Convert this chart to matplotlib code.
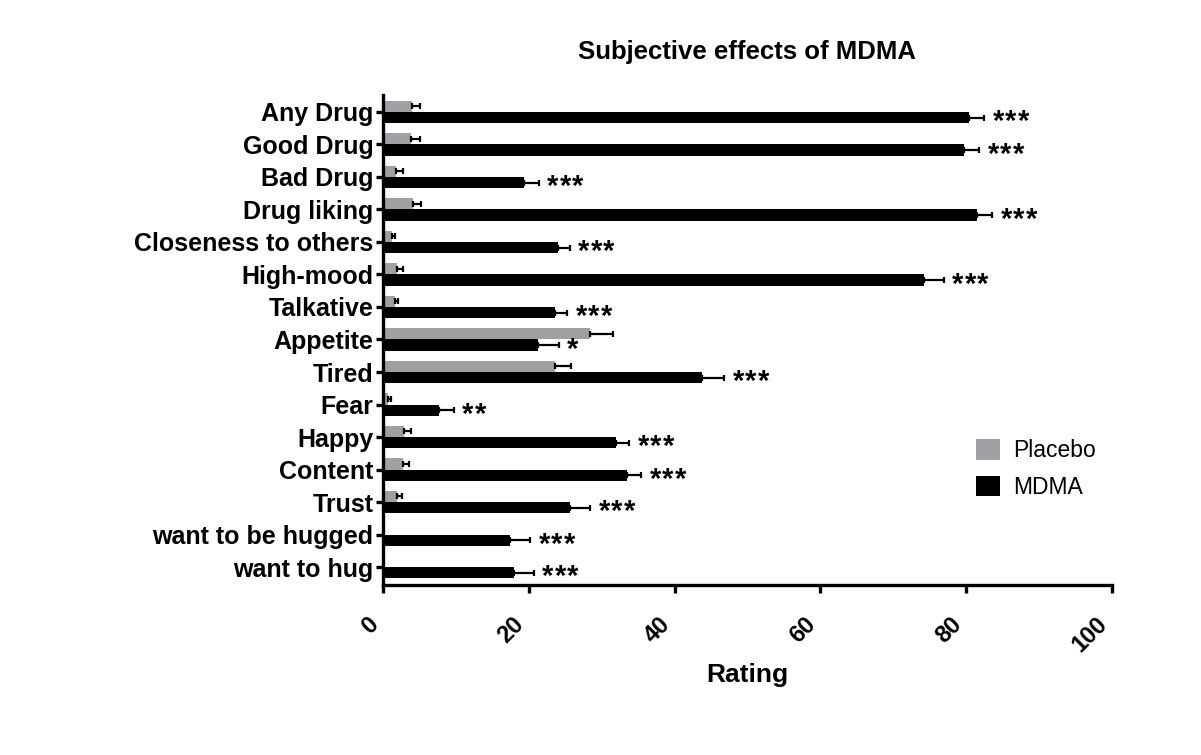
import matplotlib
matplotlib.use("Agg")
import matplotlib.pyplot as plt
from matplotlib.patches import Patch
import numpy as np

plt.rcParams['font.family'] = ['Liberation Sans', 'DejaVu Sans']

categories = ['Any Drug', 'Good Drug', 'Bad Drug', 'Drug liking', 'Closeness to others',
              'High-mood', 'Talkative', 'Appetite', 'Tired', 'Fear', 'Happy', 'Content',
              'Trust', 'want to be hugged', 'want to hug']
placebo = [4.0, 3.8, 1.8, 4.1, 1.2, 1.9, 1.6, 28.4, 23.6, 0.7, 2.9, 2.8, 1.9, 0.0, 0.0]
placebo_sem = [1.1, 1.3, 0.9, 1.1, 0.4, 0.9, 0.4, 3.1, 2.2, 0.4, 0.9, 0.8, 0.7, 0.0, 0.0]
mdma = [80.4, 79.7, 19.3, 81.5, 24.0, 74.2, 23.6, 21.3, 43.8, 7.7, 31.9, 33.5, 25.6, 17.4, 18.0]
mdma_sem = [2.1, 2.1, 2.1, 2.1, 1.6, 2.7, 1.7, 2.8, 3.0, 2.0, 1.9, 1.9, 2.8, 2.8, 2.7]
stars = ['***', '***', '***', '***', '***', '***', '***', '*', '***', '**',
         '***', '***', '***', '***', '***']
xticks = [0, 20, 40, 60, 80, 100]

gray = '#a0a0a4'
h = 0.35
y = np.arange(len(categories))

fig = plt.figure(figsize=(12.01, 7.55), dpi=100)
ax = fig.add_axes([0.3189, 0.2252, 0.607, 0.649])

ax.barh(y - h / 2, placebo, height=h, color=gray, label='Placebo')
ax.barh(y + h / 2, mdma, height=h, color='black', label='MDMA')
eb = dict(fmt='none', ecolor='black', elinewidth=1.6, capsize=2.5, capthick=1.6)
ax.errorbar(placebo, y - h / 2, xerr=[np.zeros(len(y)), placebo_sem], **eb)
ax.errorbar(mdma, y + h / 2, xerr=[np.zeros(len(y)), mdma_sem], **eb)

# each asterisk drawn on its own so they sit a little apart like the original
fs_star = 21
for i in range(len(categories)):
    for k in range(len(stars[i])):
        ax.annotate('*', xy=(mdma[i] + mdma_sem[i], y[i] + h / 2),
                    xytext=(6 + k * 9, -0.43 * fs_star), textcoords='offset points',
                    ha='left', va='baseline', fontsize=fs_star, fontweight='bold')

ax.set_xlim(0, 100)
ax.set_ylim(14.55, -0.52)
ax.set_yticks(y)
ax.set_yticklabels(categories, fontsize=18, fontweight='bold')
ax.set_xticks(xticks)
ax.set_xticklabels([str(t) for t in xticks], fontsize=17, fontweight='bold',
                   rotation=45, ha='right')

for s in ['top', 'right']:
    ax.spines[s].set_visible(False)
for s in ['left', 'bottom']:
    ax.spines[s].set_linewidth(2.4)
ax.tick_params(axis='y', length=5, width=2.4, pad=2)
ax.tick_params(axis='x', length=6, width=2.4, pad=14)

fig.text(0.622, 1 - 52 / 755, 'Subjective effects of MDMA', ha='center', va='center',
         fontsize=18.5, fontweight='bold')
fig.text(0.622, 1 - 675 / 755, 'Rating', ha='center', va='center',
         fontsize=19, fontweight='bold')

handles = [Patch(facecolor=gray, label='Placebo'), Patch(facecolor='black', label='MDMA')]
fig.legend(handles=handles, loc='upper left', bbox_to_anchor=(976 / 1201, 1 - 439 / 755),
           frameon=False, fontsize=16.5, borderpad=0, handlelength=1.05, handleheight=1.0,
           handletextpad=0.55, labelspacing=0.6, borderaxespad=0)

fig.savefig('out.png', dpi=100)
